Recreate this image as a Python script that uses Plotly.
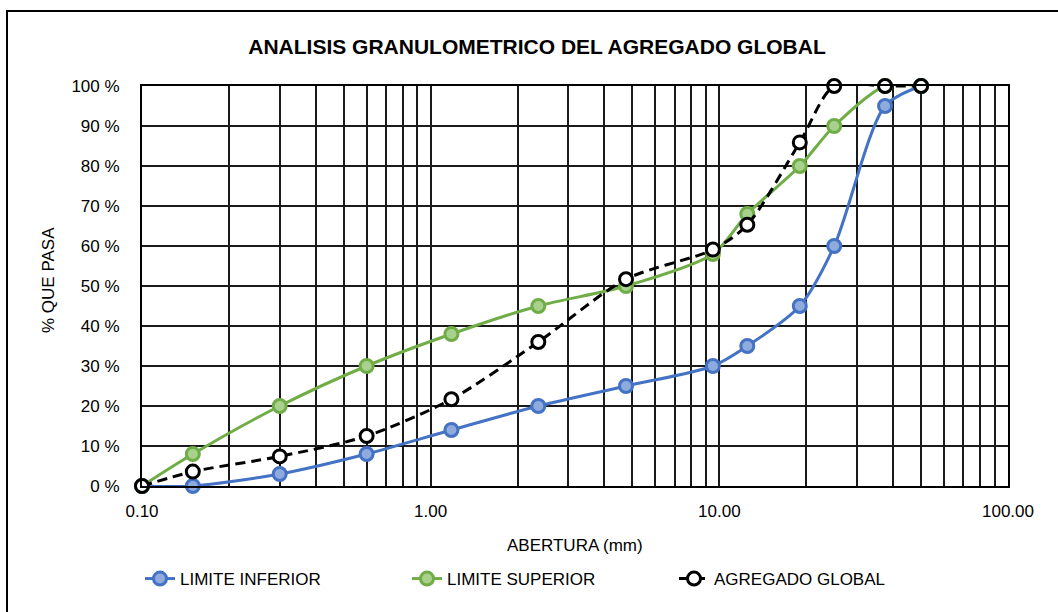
import plotly.graph_objects as go

# Sieve openings (mm) and percent passing for each curve
abertura = [0.10, 0.15, 0.30, 0.60, 1.18, 2.36, 4.75, 9.50, 12.5, 19.0, 25.0, 37.5, 50.0]
limite_inferior = [0, 0, 3, 8, 14, 20, 25, 30, 35, 45, 60, 95, 100]
limite_superior = [0, 8, 20, 30, 38, 45, 50, 58, 68, 80, 90, 100, 100]
agregado_global = [0, 3.6, 7.4, 12.5, 21.7, 36.0, 51.7, 59.1, 65.3, 85.9, 100, 100, 100]

y_ticks = list(range(0, 101, 10))
y_tick_text = [f"{v} %" for v in y_ticks]
x_ticks = [0.1, 1, 10, 100]
x_tick_text = ["0.10", "1.00", "10.00", "100.00"]

FONT = "Liberation Sans Narrow, Arial Narrow, Liberation Sans, Arial, sans-serif"

W, H = 1058, 612
L, R, T, B = 142, 50, 86, 126
PW, PH = W - L - R, H - T - B

fig = go.Figure()

fig.add_trace(go.Scatter(
    x=abertura, y=limite_inferior, name="LIMITE INFERIOR", cliponaxis=False,
    mode="lines+markers", line=dict(color="#4472C4", width=3, shape="spline", smoothing=0.8),
    marker=dict(size=13, color="#8FAADC", line=dict(color="#4472C4", width=3)),
))
fig.add_trace(go.Scatter(
    x=abertura, y=limite_superior, name="LIMITE SUPERIOR", cliponaxis=False,
    mode="lines+markers", line=dict(color="#70AD47", width=3, shape="spline", smoothing=0.8),
    marker=dict(size=13, color="#A9D18E", line=dict(color="#70AD47", width=3)),
))
fig.add_trace(go.Scatter(
    x=abertura, y=agregado_global, name="AGREGADO GLOBAL", cliponaxis=False,
    mode="lines+markers", line=dict(color="#000000", width=3, dash="10px,6px", shape="spline", smoothing=0.8),
    marker=dict(size=13, color="#FFFFFF", line=dict(color="#000000", width=3)),
))

# Chart frame around the whole figure (runs off the right and bottom edges)
fig.add_shape(type="rect", xref="paper", yref="paper",
              x0=(7 - L) / PW, x1=(1080 - L) / PW,
              y0=(H - B - 650) / PH, y1=(H - B - 11) / PH,
              line=dict(color="#000000", width=2), fillcolor="rgba(0,0,0,0)", layer="below")

# Axis titles placed as annotations for exact positioning
fig.add_annotation(text="ABERTURA (mm)", xref="paper", yref="paper",
                   x=0.5, y=(H - B - 545) / PH, xanchor="center", yanchor="middle",
                   showarrow=False, font=dict(family=FONT, size=17, color="#000000"))
fig.add_annotation(text="% QUE PASA", xref="paper", yref="paper",
                   x=(48 - L) / PW, y=(H - B - 280) / PH, xanchor="center", yanchor="middle",
                   textangle=-90, showarrow=False, font=dict(family=FONT, size=17, color="#000000"))

GRID = "#1a1a1a"

fig.update_layout(
    width=W, height=H,
    margin=dict(l=L, r=R, t=T, b=B, autoexpand=False),
    paper_bgcolor="white", plot_bgcolor="white",
    font=dict(family=FONT, size=17, color="#000000"),
    title=dict(text="<b>ANALISIS GRANULOMETRICO DEL AGREGADO GLOBAL</b>",
               x=537 / W, xanchor="center", xref="container",
               y=1 - 47 / H, yanchor="middle", yref="container",
               font=dict(family=FONT, size=21, color="#000000")),
    showlegend=True,
    legend=dict(orientation="h", x=140 / W, xanchor="left", xref="container",
                y=1 - 579 / H, yanchor="middle", yref="container",
                entrywidth=222, entrywidthmode="pixels",
                font=dict(family=FONT, size=17), tracegroupgap=0),
    xaxis=dict(
        type="log", range=[-1, 2], automargin=False,
        tickvals=x_ticks, ticktext=x_tick_text, ticklabelstandoff=9,
        showgrid=True, gridcolor=GRID, gridwidth=2,
        minor=dict(showgrid=True, gridcolor=GRID, gridwidth=2, dtick="D1", ticks=""),
        showline=True, linecolor="#000000", linewidth=2, mirror=True,
        ticks="", ticklen=0,
        tickfont=dict(family=FONT, size=17), zeroline=False,
    ),
    yaxis=dict(
        range=[0, 100], tickvals=y_ticks, ticktext=y_tick_text, automargin=False,
        ticklabelstandoff=17,
        showgrid=True, gridcolor=GRID, gridwidth=2,
        showline=True, linecolor="#000000", linewidth=2, mirror=True,
        ticks="", zeroline=False,
        tickfont=dict(family=FONT, size=17),
    ),
)

fig.write_html("out.html")
